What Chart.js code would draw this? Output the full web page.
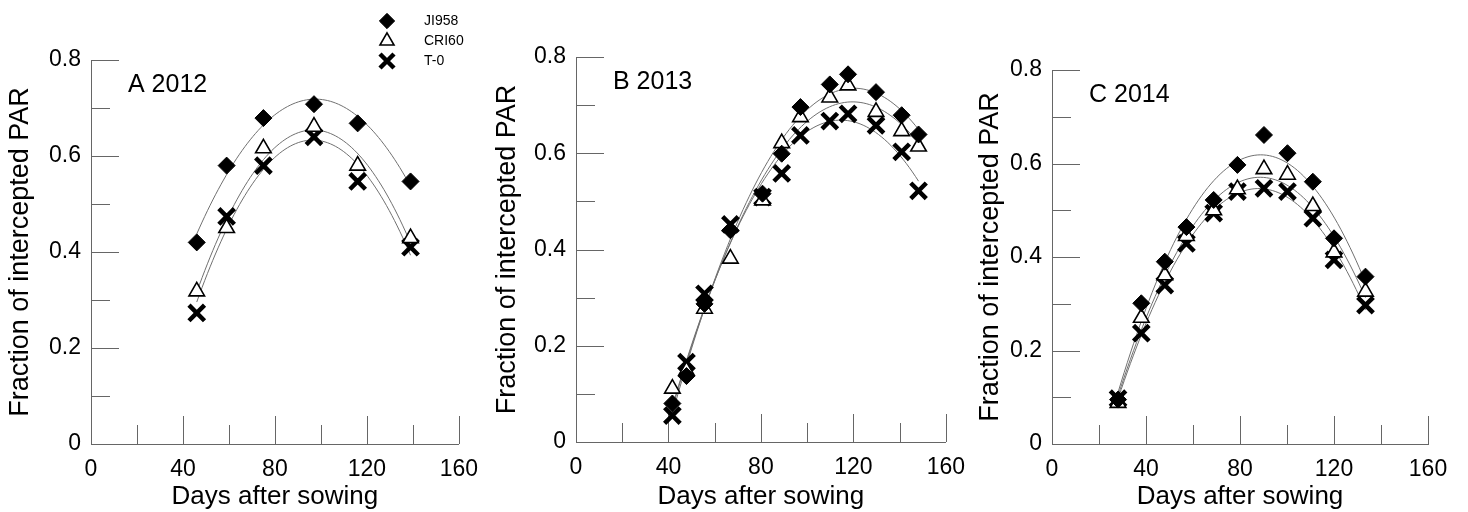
<!DOCTYPE html>
<html>
<head>
<meta charset="utf-8">
<title>Fraction of intercepted PAR</title>
<script src="https://cdn.jsdelivr.net/npm/chart.js@4.4.1/dist/chart.umd.min.js"></script>
<style>
  body { margin: 0; background: #fff; width: 1468px; height: 512px; overflow: hidden; position: relative; }
  canvas { position: absolute; top: 0; }
</style>
</head>
<body>
<canvas id="chartA" width="490" height="512" style="left:0px"></canvas>
<canvas id="chartB" width="490" height="512" style="left:487px"></canvas>
<canvas id="chartC" width="498" height="512" style="left:970px"></canvas>
<script>
// 2012 season
const daysA = [46, 59, 75, 97, 116, 139];
const ji958A = [0.42, 0.58, 0.679, 0.708, 0.668, 0.547];
const cri60A = [0.318, 0.45, 0.616, 0.661, 0.58, 0.429];
const t0A = [0.273, 0.474, 0.58, 0.64, 0.547, 0.41];

// 2013 season
const daysB = [41.7, 47.8, 55.6, 66.8, 80.7, 89, 97.1, 109.8, 117.7, 129.8, 140.9, 148.2];
const ji958B = [0.08, 0.137, 0.287, 0.44, 0.516, 0.599, 0.696, 0.743, 0.764, 0.727, 0.679, 0.639];
const cri60B = [0.111, 0.148, 0.277, 0.381, 0.502, 0.621, 0.675, 0.716, 0.741, 0.686, 0.646, 0.614];
const t0B = [0.055, 0.166, 0.308, 0.452, 0.509, 0.558, 0.637, 0.667, 0.682, 0.658, 0.603, 0.522];

// 2014 season
const daysC = [28.1, 38, 48, 57.2, 68.8, 78.9, 90.2, 100.2, 111, 120, 133.4];
const ji958C = [0.095, 0.301, 0.39, 0.464, 0.522, 0.597, 0.661, 0.622, 0.561, 0.44, 0.358];
const cri60C = [0.088, 0.27, 0.361, 0.445, 0.5, 0.545, 0.588, 0.576, 0.509, 0.41, 0.326];
const t0C = [0.097, 0.237, 0.34, 0.429, 0.494, 0.54, 0.547, 0.54, 0.483, 0.394, 0.297];

// Axis ticks
const xTicks = [0, 40, 80, 120, 160];
const xMinorTicks = [20, 60, 100, 140];
const yTicks = [0, 0.2, 0.4, 0.6, 0.8];
const yMinorTicks = [0.1, 0.3, 0.5, 0.7];

const FONT = "'Liberation Sans', Arial, sans-serif";
const AXIS_COLOR = '#666';
const CURVE_COLOR = '#707070';

const markers = [
    { name: 'JI958', pointStyle: 'rectRot', radius: 8.5, fill: '#000', stroke: '#000', width: 1 },
    { name: 'CRI60', pointStyle: 'triangle', radius: 9, fill: '#fff', stroke: '#000', width: 1.6 },
    { name: 'T-0', pointStyle: 'crossRot', radius: 11, fill: '#000', stroke: '#000', width: 4.5 }
];

// least squares fit y = a + b*x + c*x^2
function quadFit(xs, ys) {
    const s = [0, 0, 0, 0, 0], t = [0, 0, 0];
    xs.forEach(function (x, i) {
        let p = 1;
        for (let k = 0; k < 5; k++) {
            s[k] += p;
            if (k < 3) t[k] += p * ys[i];
            p *= x;
        }
    });
    const m = [[s[0], s[1], s[2], t[0]], [s[1], s[2], s[3], t[1]], [s[2], s[3], s[4], t[2]]];
    for (let c = 0; c < 3; c++) {
        for (let r = c + 1; r < 3; r++) {
            const f = m[r][c] / m[c][c];
            for (let k = c; k < 4; k++) m[r][k] -= f * m[c][k];
        }
    }
    const coef = [0, 0, 0];
    for (let r = 2; r >= 0; r--) {
        let v = m[r][3];
        for (let k = r + 1; k < 3; k++) v -= m[r][k] * coef[k];
        coef[r] = v / m[r][r];
    }
    return coef;
}

function fitCurve(xs, ys) {
    const c = quadFit(xs, ys);
    const lo = Math.min.apply(null, xs), hi = Math.max.apply(null, xs);
    const pts = [];
    for (let i = 0; i <= 80; i++) {
        const x = lo + (hi - lo) * i / 80;
        pts.push({ x: x, y: c[0] + c[1] * x + c[2] * x * x });
    }
    return pts;
}

// inward major/minor tick marks
const innerTicks = {
    id: 'innerTicks',
    beforeDatasetsDraw(chart) {
        const { ctx, chartArea, scales } = chart;
        ctx.save();
        ctx.strokeStyle = AXIS_COLOR;
        ctx.lineWidth = 1;
        ctx.beginPath();
        function xMark(v, len) {
            const px = Math.round(scales.x.getPixelForValue(v)) + 0.5;
            ctx.moveTo(px, chartArea.bottom);
            ctx.lineTo(px, chartArea.bottom - len);
        }
        function yMark(v, len) {
            const py = Math.round(scales.y.getPixelForValue(v)) + 0.5;
            ctx.moveTo(chartArea.left, py);
            ctx.lineTo(chartArea.left + len, py);
        }
        xTicks.forEach(v => xMark(v, 28));
        xMinorTicks.forEach(v => xMark(v, 19));
        yTicks.forEach(v => yMark(v, 28));
        yMinorTicks.forEach(v => yMark(v, 19));
        ctx.stroke();
        ctx.restore();
    }
};

// panel letter and year in the upper left of the plot
const panelLabel = {
    id: 'panelLabel',
    afterDraw(chart, args, opts) {
        const { ctx, chartArea } = chart;
        ctx.save();
        ctx.fillStyle = '#000';
        ctx.font = '25px ' + FONT;
        ctx.textBaseline = 'alphabetic';
        ctx.fillText(opts.text, chartArea.left + 37, chartArea.top + 31.5);
        ctx.restore();
    }
};

// symbol key
const symbolKey = {
    id: 'symbolKey',
    afterDraw(chart, args, opts) {
        if (!opts.show) return;
        const ctx = chart.ctx;
        ctx.save();
        markers.forEach(function (m, i) {
            const y = 21 + i * 20;
            ctx.fillStyle = m.fill;
            ctx.strokeStyle = m.stroke;
            ctx.lineWidth = m.width;
            Chart.helpers.drawPoint(ctx, { pointStyle: m.pointStyle, radius: m.radius * 0.9, rotation: 0, borderWidth: m.width }, 387, y);
            ctx.fillStyle = '#000';
            ctx.font = '14px ' + FONT;
            ctx.textBaseline = 'middle';
            ctx.fillText(m.name, 424, y);
        });
        ctx.restore();
    }
};

function makePanel(id, label, days, seriesValues, box, showKey) {
    const datasets = [];
    markers.forEach(function (m, i) {
        datasets.push({
            label: m.name,
            data: days.map((d, j) => ({ x: d, y: seriesValues[i][j] })),
            pointStyle: m.pointStyle,
            pointRadius: m.radius,
            backgroundColor: m.fill,
            borderColor: m.stroke,
            borderWidth: m.width,
            order: 0
        });
    });
    markers.forEach(function (m, i) {
        datasets.push({
            label: m.name + ' fit',
            data: fitCurve(days, seriesValues[i]),
            showLine: true,
            pointRadius: 0,
            borderColor: CURVE_COLOR,
            borderWidth: 1,
            order: 1
        });
    });

    return new Chart(document.getElementById(id), {
        type: 'scatter',
        data: { datasets: datasets },
        options: {
            responsive: false,
            animation: false,
            events: [],
            devicePixelRatio: 1,
            layout: { padding: { left: 0, right: box.padRight, top: box.padTop, bottom: 0 } },
            plugins: {
                legend: { display: false },
                tooltip: { enabled: false },
                panelLabel: { text: label },
                symbolKey: { show: showKey }
            },
            scales: {
                x: {
                    type: 'linear',
                    min: 0,
                    max: 160,
                    afterBuildTicks: s => { s.ticks = xTicks.map(v => ({ value: v })); },
                    afterFit: s => { s.height = box.axisBottom; },
                    grid: { display: false, drawTicks: false },
                    border: { display: true, color: AXIS_COLOR, width: 1 },
                    ticks: {
                        color: '#000',
                        font: { family: FONT, size: 23 },
                        padding: 12,
                        maxRotation: 0,
                        callback: v => String(v)
                    },
                    title: {
                        display: true,
                        text: 'Days after sowing',
                        color: '#000',
                        font: { family: FONT, size: 26 },
                        padding: { top: 0, bottom: 0 }
                    }
                },
                y: {
                    type: 'linear',
                    min: 0,
                    max: 0.8,
                    afterBuildTicks: s => { s.ticks = yTicks.map(v => ({ value: v })); },
                    afterFit: s => { s.width = box.axisLeft; },
                    grid: { display: false, drawTicks: false },
                    border: { display: true, color: AXIS_COLOR, width: 1 },
                    ticks: {
                        color: '#000',
                        font: { family: FONT, size: 23 },
                        padding: 10,
                        callback: v => String(v)
                    },
                    title: {
                        display: true,
                        text: 'Fraction of intercepted PAR',
                        color: '#000',
                        font: { family: FONT, size: 27 },
                        padding: { top: 4, bottom: 0 }
                    }
                }
            }
        },
        plugins: [innerTicks, panelLabel, symbolKey]
    });
}

makePanel('chartA', 'A 2012', daysA, [ji958A, cri60A, t0A],
    { axisLeft: 91, padRight: 22, padTop: 60, axisBottom: 68 }, true);
makePanel('chartB', 'B 2013', daysB, [ji958B, cri60B, t0B],
    { axisLeft: 89, padRight: 22, padTop: 57, axisBottom: 70 }, false);
makePanel('chartC', 'C 2014', daysC, [ji958C, cri60C, t0C],
    { axisLeft: 82, padRight: 40, padTop: 70, axisBottom: 68 }, false);
</script>
</body>
</html>
